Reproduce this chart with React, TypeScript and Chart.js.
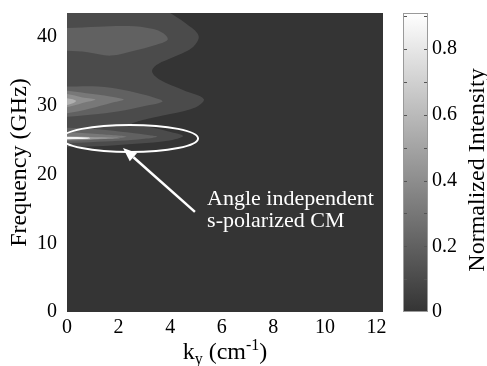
import React, { useEffect, useRef } from 'react';
import { Chart, registerables } from 'chart.js';

Chart.register(...registerables);

const SERIF = "'Liberation Serif', 'Times New Roman', serif";

// ---- axes ----
const xTicks = [0, 2, 4, 6, 8, 10, 12];
const yTicks = [0, 10, 20, 30, 40];
const colorbarTicks = [0, 0.2, 0.4, 0.6, 0.8];
const colorbarMinorTicks = [0.1, 0.2, 0.3, 0.4, 0.5, 0.6, 0.7, 0.8, 0.9];
const xLimits = [0, 12.25];
const yLimits = [0, 43.5];
const intensityLimits = [0, 0.91];

// ---- filled contour regions: [k_y (cm^-1), frequency (GHz)] ----
const band1Outer: number[][] = [
  [-0.4, 44.5], [3.6, 44.5], [4.0, 43.5], [4.6, 42.0], [5.1, 40.2], [4.9, 38.6], [4.2, 37.2],
  [3.5, 36.0], [3.3, 35.0], [3.6, 33.8], [4.5, 32.3], [5.3, 31.0], [5.0, 29.8], [4.0, 28.8],
  [2.9, 27.9], [2.5, 27.3], [3.2, 26.9], [3.9, 26.3], [4.5, 25.6], [3.9, 24.9], [2.8, 24.5],
  [1.2, 24.1], [0, 24.0], [-0.4, 24.0],
];
const band2Top: number[][] = [
  [-0.4, 41.3], [0, 41.3], [1.2, 41.5], [2.4, 41.6], [3.3, 41.2], [3.75, 40.5], [3.9, 39.6],
  [3.4, 38.8], [2.6, 38.0], [1.7, 37.3], [0.8, 37.8], [0, 38.0], [-0.4, 38.0],
];
const band2Mid: number[][] = [
  [-0.4, 32.8], [0, 32.8], [1.2, 32.8], [2.2, 32.3], [3.0, 31.6], [3.6, 30.9], [3.7, 30.6],
  [3.2, 30.1], [2.3, 29.4], [1.2, 28.8], [0, 28.4], [-0.4, 28.4],
];
const band2Low: number[][] = [
  [-0.4, 26.8], [0, 26.8], [1.2, 26.6], [2.4, 26.1], [3.2, 25.7], [3.5, 25.5], [3.0, 25.2],
  [2.0, 24.9], [0.9, 24.7], [0, 24.6], [-0.4, 24.6],
];
const band3Mid: number[][] = [
  [-0.4, 32.2], [0, 32.2], [1.0, 31.7], [1.9, 31.2], [2.2, 30.9], [1.7, 30.4], [0.9, 29.6],
  [0, 28.9], [-0.4, 28.9],
];
const band3Low: number[][] = [
  [-0.4, 26.2], [0, 26.2], [1.2, 25.9], [2.3, 25.5], [1.2, 25.1], [0, 24.9], [-0.4, 24.9],
];
const band4Mid: number[][] = [
  [-0.4, 31.7], [0, 31.7], [0.6, 31.2], [1.1, 30.9], [0.6, 30.4], [0, 29.8], [-0.4, 29.8],
];
const band4Low: number[][] = [
  [-0.4, 25.6], [0, 25.6], [0.9, 25.45], [1.8, 25.35], [2.1, 25.3], [1.5, 25.2], [0.9, 25.15],
  [0, 25.05], [-0.4, 25.05],
];
const band5Mid: number[][] = [
  [-0.4, 31.1], [0, 31.1], [0.35, 30.7], [0, 30.1], [-0.4, 30.1],
];
const band6Low: number[][] = [
  [-0.4, 25.45], [0, 25.45], [0.8, 25.4], [0.9, 25.3], [0.8, 25.2], [0, 25.15], [-0.4, 25.15],
];
const contourShapes = [band1Outer, band2Top, band2Mid, band2Low, band3Mid, band3Low, band4Mid, band4Low, band5Mid, band6Low];
const contourLevels = [0.1, 0.2, 0.2, 0.2, 0.3, 0.3, 0.4, 0.45, 0.55, 0.85];

// ---- annotation ----
const ellipseCenter = [2.44, 25.25];
const ellipseRadii = [2.64, 1.97];
const arrowTail = [4.96, 14.56];
const arrowTip = [2.17, 23.87];
const noteLines = ['Angle independent', 's-polarized CM'];
const noteAnchor = [5.43, 15.6];
const noteSecondBaseline = 12.4;

function grayAt(v: number) {
  const g = Math.round(52 + 203 * Math.max(0, Math.min(v / 0.9, 1)));
  return `rgb(${g},${g},${g})`;
}

const noPad = (s: any) => {
  s.paddingTop = 0;
  s.paddingBottom = 0;
  s.paddingLeft = 0;
  s.paddingRight = 0;
};

const decorPlugin = {
  id: 'decor',
  beforeDatasetsDraw(chart: any) {
    const { ctx, chartArea: a } = chart;
    ctx.save();
    ctx.fillStyle = grayAt(0);
    ctx.fillRect(a.left, a.top, a.right - a.left, a.bottom - a.top);
    ctx.restore();
  },
  afterDatasetsDraw(chart: any) {
    const { ctx } = chart;
    const xs = chart.scales.x;
    const ys = chart.scales.y;
    ctx.save();
    // ellipse
    const cx = xs.getPixelForValue(ellipseCenter[0]);
    const cy = ys.getPixelForValue(ellipseCenter[1]);
    const rx = xs.getPixelForValue(ellipseCenter[0] + ellipseRadii[0]) - cx;
    const ry = cy - ys.getPixelForValue(ellipseCenter[1] + ellipseRadii[1]);
    ctx.strokeStyle = '#ffffff';
    ctx.lineWidth = 2;
    ctx.beginPath();
    ctx.ellipse(cx, cy, rx, ry, 0, 0, Math.PI * 2);
    ctx.stroke();
    // arrow
    const tx = xs.getPixelForValue(arrowTail[0]);
    const ty = ys.getPixelForValue(arrowTail[1]);
    const hx = xs.getPixelForValue(arrowTip[0]);
    const hy = ys.getPixelForValue(arrowTip[1]);
    const ang = Math.atan2(hy - ty, hx - tx);
    const headLen = 14;
    const headHalf = 5.5;
    const bx = hx - headLen * Math.cos(ang);
    const by = hy - headLen * Math.sin(ang);
    ctx.lineWidth = 2.5;
    ctx.beginPath();
    ctx.moveTo(tx, ty);
    ctx.lineTo(bx, by);
    ctx.stroke();
    ctx.fillStyle = '#ffffff';
    ctx.beginPath();
    ctx.moveTo(hx, hy);
    ctx.lineTo(bx + headHalf * Math.sin(ang), by - headHalf * Math.cos(ang));
    ctx.lineTo(bx - headHalf * Math.sin(ang), by + headHalf * Math.cos(ang));
    ctx.closePath();
    ctx.fill();
    // note text
    ctx.font = `22px ${SERIF}`;
    ctx.textAlign = 'left';
    ctx.textBaseline = 'alphabetic';
    const nx = xs.getPixelForValue(noteAnchor[0]);
    ctx.fillText(noteLines[0], nx, ys.getPixelForValue(noteAnchor[1]));
    ctx.fillText(noteLines[1], nx, ys.getPixelForValue(noteSecondBaseline));
    ctx.restore();
  },
  afterDraw(chart: any) {
    const { ctx, chartArea: a } = chart;
    const cs = chart.scales.cbar;
    ctx.save();
    // colorbar
    const left = cs.left + 20;
    const w = 25;
    const top = cs.getPixelForValue(intensityLimits[1]);
    const bottom = cs.getPixelForValue(intensityLimits[0]);
    const grad = ctx.createLinearGradient(0, bottom, 0, top);
    grad.addColorStop(0, grayAt(intensityLimits[0]));
    grad.addColorStop(1, grayAt(intensityLimits[1]));
    ctx.fillStyle = grad;
    ctx.fillRect(left, top, w, bottom - top);
    ctx.strokeStyle = '#555';
    ctx.lineWidth = 1;
    for (const v of colorbarMinorTicks) {
      const y = Math.round(cs.getPixelForValue(v)) + 0.5;
      ctx.beginPath();
      ctx.moveTo(left, y);
      ctx.lineTo(left + 4, y);
      ctx.moveTo(left + w - 4, y);
      ctx.lineTo(left + w, y);
      ctx.stroke();
    }
    ctx.strokeStyle = '#9a9a9a';
    ctx.strokeRect(left + 0.5, top + 0.5, w - 1, bottom - top - 1);
    // colorbar title
    ctx.fillStyle = '#000';
    ctx.font = `24px ${SERIF}`;
    ctx.textAlign = 'center';
    ctx.textBaseline = 'alphabetic';
    ctx.translate(chart.width - 3, 170);
    ctx.rotate(-Math.PI / 2);
    ctx.fillText('Normalized Intensity', 0, 0);
    ctx.restore();

    // x title with subscript / superscript
    ctx.save();
    ctx.fillStyle = '#000';
    ctx.textBaseline = 'alphabetic';
    ctx.textAlign = 'left';
    const parts = [
      { t: 'k', s: 24, dy: 0 },
      { t: 'y', s: 16, dy: 5 },
      { t: ' (cm', s: 24, dy: 0 },
      { t: '-1', s: 16, dy: -9 },
      { t: ')', s: 24, dy: 0 },
    ];
    let total = 0;
    for (const p of parts) {
      ctx.font = `${p.s}px ${SERIF}`;
      total += ctx.measureText(p.t).width;
    }
    let x = (a.left + a.right) / 2 - total / 2;
    const base = 359;
    for (const p of parts) {
      ctx.font = `${p.s}px ${SERIF}`;
      ctx.fillText(p.t, x, base + p.dy);
      x += ctx.measureText(p.t).width;
    }
    ctx.restore();
  },
};

export default function App() {
  const ref = useRef<HTMLCanvasElement>(null);
  useEffect(() => {
    const canvas = ref.current!;
    const n = contourShapes.length;
    const datasets = contourShapes.map((pts, i) => ({
      type: 'line' as const,
      data: pts.map(([x, y]) => ({ x, y })),
      backgroundColor: grayAt(contourLevels[i]),
      borderColor: grayAt(contourLevels[i]),
      borderWidth: 0,
      pointRadius: 0,
      fill: 'shape',
      tension: 0.35,
      order: n - i,
    }));
    const tickFont = { family: SERIF, size: 20 };
    const chart = new Chart(canvas, {
      type: 'line',
      data: { datasets: datasets as any },
      options: {
        animation: false,
        responsive: false,
        maintainAspectRatio: false,
        events: [],
        layout: { padding: { top: 13, left: 0, right: 0, bottom: 0 } },
        elements: { line: { capBezierPoints: false } },
        plugins: { legend: { display: false }, tooltip: { enabled: false } },
        scales: {
          x: {
            type: 'linear',
            min: xLimits[0],
            max: xLimits[1],
            grid: { display: false, drawTicks: false },
            border: { display: false },
            ticks: { font: tickFont, color: '#000', padding: 4, maxRotation: 0, autoSkip: false },
            afterBuildTicks: (s: any) => { s.ticks = xTicks.map((v) => ({ value: v })); },
            afterFit: (s: any) => { s.height = 54; noPad(s); },
          },
          y: {
            type: 'linear',
            min: yLimits[0],
            max: yLimits[1],
            grid: { display: false, drawTicks: false },
            border: { display: false },
            ticks: { font: tickFont, color: '#000', padding: 10, autoSkip: false },
            title: { display: true, text: 'Frequency (GHz)', font: { family: SERIF, size: 24 }, color: '#000', padding: { top: 5, bottom: 0 } },
            afterBuildTicks: (s: any) => { s.ticks = yTicks.map((v) => ({ value: v })); },
            afterFit: (s: any) => { s.width = 67; noPad(s); },
          },
          cbar: {
            type: 'linear',
            position: 'right',
            axis: 'y',
            min: intensityLimits[0],
            max: intensityLimits[1],
            grid: { display: false, drawTicks: false },
            border: { display: false },
            ticks: { font: tickFont, color: '#000', padding: 49, autoSkip: false },
            afterBuildTicks: (s: any) => { s.ticks = colorbarTicks.map((v) => ({ value: v })); },
            afterFit: (s: any) => { s.width = 104; noPad(s); },
          },
        } as any,
      },
      plugins: [decorPlugin],
    });
    return () => chart.destroy();
  }, []);
  return (
    <div style={{ position: 'absolute', left: 0, top: 0, width: 487, height: 366, background: '#fff' }}>
      <canvas ref={ref} width={487} height={366} style={{ display: 'block', width: 487, height: 366 }} />
    </div>
  );
}
